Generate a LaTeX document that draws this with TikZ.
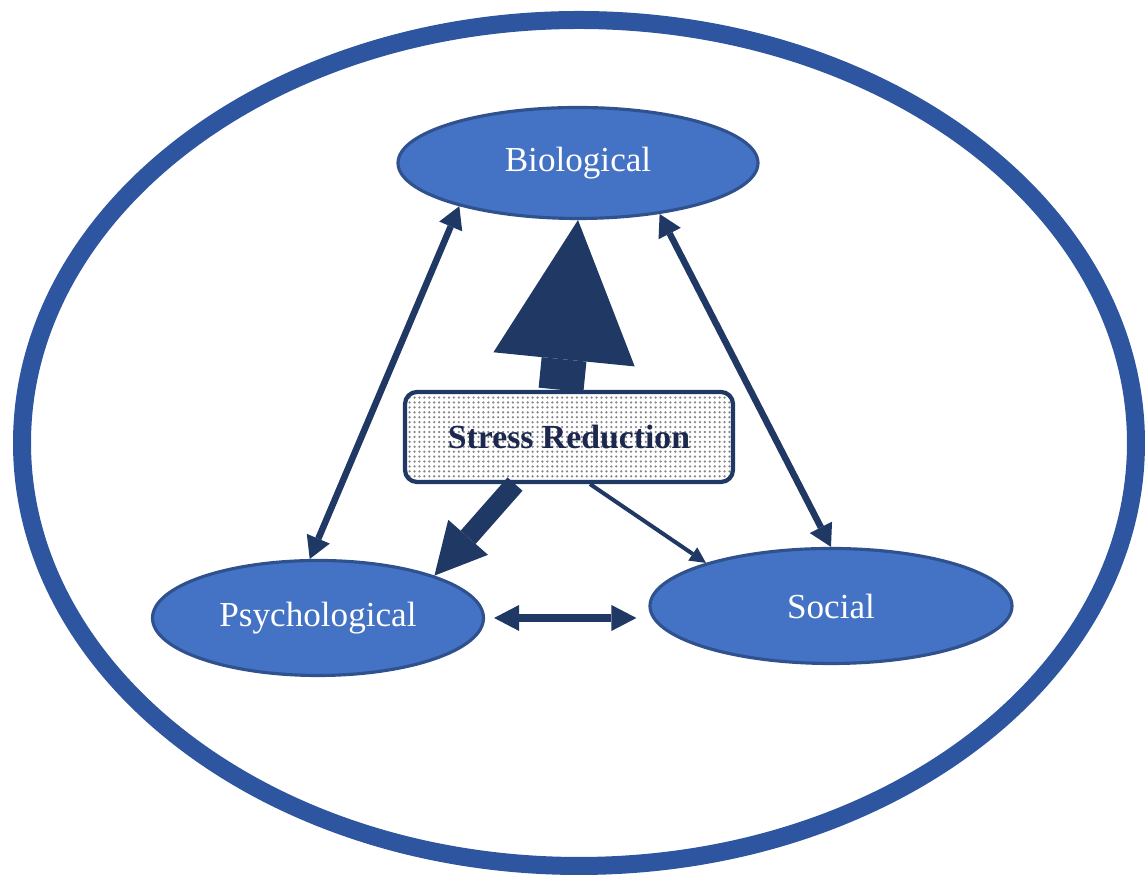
\documentclass[tikz,border=0pt]{standalone}
\usepackage{fontspec}
\setmainfont{Liberation Serif}
\usepackage{tikz}
\usetikzlibrary{arrows.meta,shapes.geometric,patterns}
\definecolor{ring}{RGB}{46,85,160}
\definecolor{partfill}{RGB}{68,114,196}
\definecolor{partline}{RGB}{47,82,143}
\definecolor{navy}{RGB}{32,56,100}
\definecolor{boxtext}{RGB}{28,40,78}
\pgfdeclarepatternformonly{finedots}{\pgfpoint{-0.5pt}{-0.5pt}}{\pgfpoint{1.5pt}{1.5pt}}{\pgfpoint{1.4pt}{1.4pt}}
{\pgfpathcircle{\pgfpoint{0.35pt}{0.35pt}}{0.36pt}\pgfusepath{fill}}
\tikzset{
  part/.style={ellipse, draw=partline, fill=partfill, line width=0.9pt,
    text=white, inner sep=0pt, font=\fontsize{10}{12}\selectfont},
  link/.style={draw=navy, line width=0.065cm,
    {Triangle[width=0.25cm,length=0.22cm,line width=0pt]}-{Triangle[width=0.25cm,length=0.22cm,line width=0pt]}},
}

\begin{document}
\begin{tikzpicture}
\useasboundingbox (0,0) rectangle (11.45,8.81);
% outer ring
\draw[ring, line width=0.18cm] (5.79,4.38) ellipse [x radius=5.57, y radius=4.23];
% the three parts
\node[part, minimum width=3.60cm, minimum height=1.11cm] (bio) at (5.78,7.18) {Biological};
\node[part, minimum width=3.31cm, minimum height=1.15cm] (psy) at (3.18,2.63) {Psychological};
\node[part, minimum width=3.62cm, minimum height=1.15cm] (soc) at (8.31,2.75) {Social};
% centre box
\node[draw=navy, line width=1.2pt, rounded corners=0.12cm,
      preaction={fill=white}, pattern=finedots, pattern color=gray!95,
      minimum width=3.28cm, minimum height=0.90cm, text=boxtext,
      font=\fontsize{9.6}{12}\selectfont\bfseries] (box) at (5.69,4.44) {Stress Reduction};
% links between parts
\draw[link] (bio.200) -- (psy.98);
\draw[link] (bio.328) -- (soc.north);
\draw[draw=navy, line width=0.08cm, shorten <=0.09cm, shorten >=0.12cm,
      {Triangle[width=0.26cm,length=0.25cm,line width=0pt]}-{Triangle[width=0.26cm,length=0.25cm,line width=0pt]}]
      (psy.east) -- (psy.east -| soc.west);
% effects of stress reduction
\draw[navy, line width=0.45cm, -{Triangle[width=1.42cm,length=1.4cm,line width=0pt]}]
      ([xshift=-0.08cm]box.north) -- (bio.south);
\draw[navy, line width=0.2cm, -{Triangle[width=0.53cm,length=0.51cm,line width=0pt]}]
      ([xshift=-0.54cm]box.south) -- (psy.20);
\draw[navy, line width=0.04cm, -{Triangle[width=0.16cm,length=0.16cm,line width=0pt]}]
      ([xshift=0.21cm]box.south) -- (soc.161);
\end{tikzpicture}
\end{document}
